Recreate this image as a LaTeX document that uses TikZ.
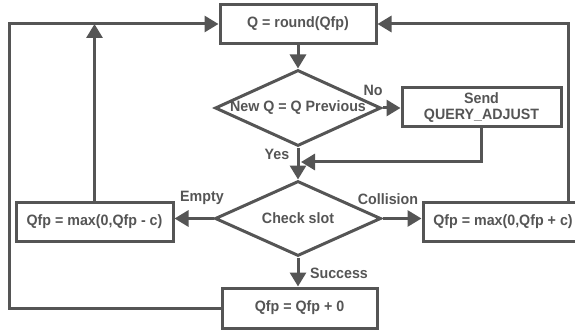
\documentclass[tikz,border=0pt]{standalone}
\usepackage{fontspec}
\setmainfont{Liberation Sans}[FakeStretch=0.95]
\usetikzlibrary{shapes.geometric,arrows.meta}
\definecolor{flowgrey}{RGB}{85,85,85}
\begin{document}
\begin{tikzpicture}[x=1pt,y=-1pt,
    every node/.style={text=flowgrey,font=\bfseries\fontsize{15}{16.5}\selectfont},
    box/.style={draw=flowgrey,line width=3pt,rectangle,inner sep=0pt,minimum height=39pt},
    test/.style={draw=flowgrey,line width=3pt,diamond,inner xsep=-4pt,inner ysep=0pt,aspect=2.2,minimum width=166pt,minimum height=76pt},
    flow/.style={draw=flowgrey,line width=3pt,-{Triangle[length=14pt,width=16pt]}},
    tag/.style={inner sep=0pt}]
  \useasboundingbox (0,0) rectangle (575,331);
  \draw
    (298,24) node[box,minimum width=156pt] (round){Q = round(Qfp)}
    (298,108) node[test] (newq){New Q = Q Previous}
    (481.5,107.5) node[box,minimum width=159pt,align=center] (send){Send\\QUERY\_ADJUST}
    (298,218.5) node[test,minimum height=75pt] (check){Check slot}
    (94.5,221.5) node[box,minimum width=157pt] (minus){Qfp = max(0,Qfp - c)}
    (503,221.5) node[box,minimum width=160pt] (plus){Qfp = max(0,Qfp + c)}
    (299.5,308) node[box,minimum width=155pt,minimum height=40pt] (keep){Qfp = Qfp + 0};
  \draw
    (373,90) node[tag] (no){No}
    (277,154) node[tag] (yes){Yes}
    (202,198) node[tag] (empty){Empty}
    (388,199) node[tag] (collision){Collision}
    (339,273) node[tag] (success){Success};
  \coordinate (merge) at (298,162);
  \coordinate (leftrail) at (9,24);
  \coordinate (rightrail) at (568,24);
  \begin{scope}[flow]
    \draw (round) -- (newq);
    \draw (newq.east) -- (newq.east -| send.west);
    \draw[shorten >=3pt] (send.south) |- (merge);
    \draw (newq) -- (check);
    \draw (check.west) -- (check.west -| minus.east);
    \draw (check.east) -- (check.east -| plus.west);
    \draw (check.south) -- (check.south |- keep.north);
    \draw (keep.west) -| (leftrail) -- (round.west);
    \draw (minus.north) -- (minus.north |- round.west);
    \draw (plus.north -| rightrail) -- (rightrail) -- (round.east);
  \end{scope}
\end{tikzpicture}
\end{document}
